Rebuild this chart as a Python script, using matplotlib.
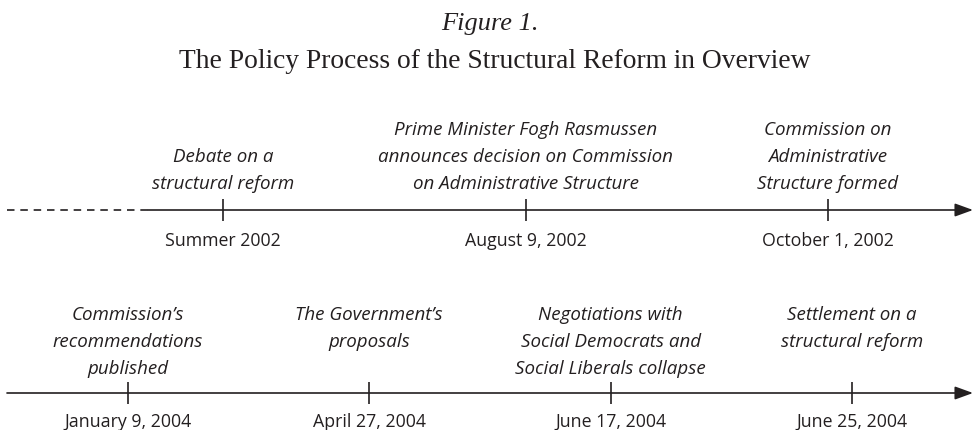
"""Timeline figure: policy process of the structural reform"""

import matplotlib.pyplot as plt
import numpy as np

# Data
row1_dates = ["Summer 2002", "August 9, 2002", "October 1, 2002"]
row1_events = [
    "Debate on a\nstructural reform",
    "Prime Minister Fogh Rasmussen\nannounces decision on Commission\non Administrative Structure",
    "Commission on\nAdministrative\nStructure formed",
]
row2_dates = ["January 9, 2004", "April 27, 2004", "June 17, 2004", "June 25, 2004"]
row2_events = [
    "Commission\u2019s\nrecommendations\npublished",
    "The Government\u2019s\nproposals",
    "Negotiations with\nSocial Democrats and\nSocial Liberals collapse",
    "Settlement on a\nstructural reform",
]

ink = "#231f20"
sans = "Open Sans"
serif = "Liberation Serif"

fig = plt.figure(figsize=(9.76, 4.31), dpi=100)
W, H = 976, 431


def timeline(dates, events, x0, step, line_y, label_y, date_y, event_va, dashed_to=None):
    ax = fig.add_axes([0, 0, 1, 1])
    ax.set_axis_off()
    ax.set_ylim(H, 0)
    # map event index so that index 0 sits at x0 px and steps by `step` px
    ax.set_xlim(-x0 / step, (W - x0) / step)
    pos = np.arange(len(dates))
    left = (7 - x0) / step
    right = (973 - x0) / step
    start = left
    if dashed_to is not None:
        mid = (dashed_to - x0) / step
        ax.plot([left, mid], [line_y, line_y], color=ink, lw=1.2,
                linestyle=(0, (4.5, 3.5)))
        start = mid
    ax.annotate("", xy=(right, line_y), xytext=(start, line_y),
                arrowprops=dict(arrowstyle="-|>,head_length=11,head_width=4",
                                mutation_scale=1, color=ink, lw=1.2,
                                shrinkA=0, shrinkB=0))
    ax.vlines(pos, line_y - 11, line_y + 11, color=ink, lw=1.2)
    for p, d, e in zip(pos, dates, events):
        ax.text(p, date_y, d, ha="center", va="center", fontsize=12.8,
                family=sans, color=ink)
        ax.text(p, label_y, e, ha="center", va=event_va, fontsize=13.5,
                family=sans, style="italic", color=ink, linespacing=1.64,
                multialignment="center")
    return ax


timeline(row1_dates, row1_events, 223, 302.5, 211, 193, 241, "bottom", dashed_to=148)
timeline(row2_dates, row2_events, 128, 241.3, 394, 306, 422, "top")

fig.text(0.502, 1 - 24 / H, "Figure 1.", ha="center", va="center",
         fontsize=19, family=serif, style="italic", color=ink)
fig.text(0.507, 1 - 62 / H, "The Policy Process of the Structural Reform in Overview",
         ha="center", va="center", fontsize=19.8, family=serif, color=ink)

fig.savefig("out.png", dpi=100)
